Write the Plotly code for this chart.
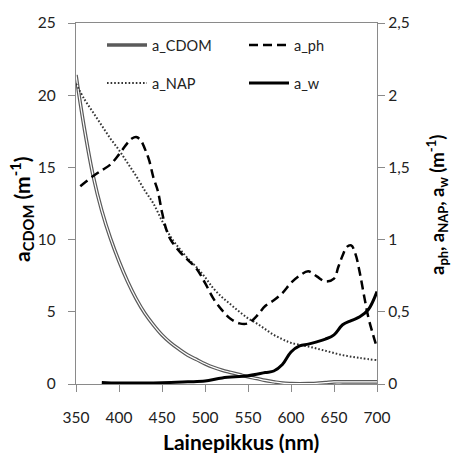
import plotly.graph_objects as go

# ---- data ----
wl_cdom = [350, 360, 370, 380, 390, 400, 410, 420, 430, 440, 450, 460, 470, 480, 490,
           500, 510, 520, 530, 540, 550, 560, 570, 580, 590, 600, 610, 620, 630, 640,
           650, 660, 670, 680, 690, 700]
a_cdom = [21.4, 17.6, 14.4, 12.0, 10.1, 8.5, 7.1, 5.9, 4.9, 4.1, 3.4, 2.85, 2.4, 2.0, 1.7,
          1.4, 1.15, 0.95, 0.8, 0.65, 0.5, 0.38, 0.25, 0.15, 0.06, 0.03, 0.02, 0.03, 0.05, 0.1,
          0.15, 0.15, 0.15, 0.15, 0.15, 0.15]

wl_ph = [355, 370, 380, 390, 400, 410, 415, 420, 425, 430, 435, 440, 445, 450, 455, 460,
         470, 480, 490, 500, 510, 520, 530, 540, 550, 560, 570, 580, 590, 600, 610, 620,
         630, 640, 650, 655, 660, 665, 670, 675, 680, 685, 690, 695, 700]
a_ph = [1.37, 1.44, 1.48, 1.52, 1.59, 1.67, 1.70, 1.71, 1.69, 1.63, 1.55, 1.43, 1.34, 1.19,
        1.07, 1.00, 0.92, 0.86, 0.80, 0.70, 0.59, 0.51, 0.45, 0.42, 0.42, 0.47, 0.54, 0.58,
        0.63, 0.70, 0.75, 0.78, 0.745, 0.71, 0.73, 0.81, 0.89, 0.95, 0.96, 0.90, 0.77, 0.61,
        0.46, 0.35, 0.25]

wl_nap = [350, 360, 370, 380, 390, 400, 410, 420, 430, 440, 450, 460, 470, 480, 490, 500,
          510, 520, 530, 540, 550, 560, 570, 580, 590, 600, 620, 640, 660, 680, 700]
a_nap = [2.08, 1.97, 1.88, 1.79, 1.70, 1.62, 1.53, 1.44, 1.34, 1.25, 1.13, 1.02, 0.94, 0.87,
         0.81, 0.74, 0.66, 0.60, 0.55, 0.50, 0.455, 0.42, 0.38, 0.34, 0.31, 0.285, 0.26,
         0.23, 0.20, 0.18, 0.165]

wl_w = [380, 400, 450, 480, 500, 520, 550, 570, 580, 590, 600, 610, 620, 630, 640, 650,
        660, 670, 680, 690, 700]
a_w = [0.011, 0.007, 0.009, 0.015, 0.020, 0.042, 0.057, 0.079, 0.090, 0.135, 0.222, 0.264,
       0.276, 0.292, 0.311, 0.340, 0.410, 0.439, 0.465, 0.516, 0.640]

x_ticks = [350, 400, 450, 500, 550, 600, 650, 700]
y1_ticks = [0, 5, 10, 15, 20, 25]
y2_ticks = [0, 0.5, 1, 1.5, 2, 2.5]
y2_labels = ["0", "0,5", "1", "1,5", "2", "2,5"]

x_title = "<b>Lainepikkus (nm)</b>"
y1_title = "<b>a<sub>CDOM</sub> (m<sup>-1</sup>)</b>"
y2_title = "<b>a<sub>ph</sub>, a<sub>NAP</sub>, a<sub>w</sub> (m<sup>-1</sup>)</b>"

FONT = "Lato"
TXT = "#222222"
AX = "#8a8a8a"

fig = go.Figure()

# a_CDOM double line (gray outer + white core)
fig.add_trace(go.Scatter(x=wl_cdom, y=a_cdom, mode="lines", name="a_CDOM",
                         line=dict(color="#5a5a5a", width=3.6, shape="spline"),
                         legend="legend", yaxis="y"))
fig.add_trace(go.Scatter(x=wl_cdom, y=a_cdom, mode="lines", showlegend=False,
                         line=dict(color="white", width=1.2, shape="spline"),
                         hoverinfo="skip", yaxis="y"))
fig.add_trace(go.Scatter(x=wl_nap, y=a_nap, mode="lines", name="a_NAP",
                         line=dict(color="#333333", width=2, dash="1.6px,2px", shape="spline"),
                         legend="legend2", yaxis="y2"))
fig.add_trace(go.Scatter(x=wl_ph, y=a_ph, mode="lines", name="a_ph",
                         line=dict(color="black", width=2.5, dash="9px,5px", shape="spline"),
                         legend="legend3", yaxis="y2"))
fig.add_trace(go.Scatter(x=wl_w, y=a_w, mode="lines", name="a_w",
                         line=dict(color="black", width=3, shape="spline"),
                         legend="legend4", yaxis="y2"))

leg_common = dict(bgcolor="rgba(0,0,0,0)", borderwidth=0, yanchor="middle",
                  xanchor="left", font=dict(family=FONT, size=14.5, color=TXT),
                  itemwidth=40)

PL, PT, PW, PH = 76, 23, 301, 361   # plot area in pixels


def px_x(px):
    return (px - PL) / PW


def px_y(py):
    return (PT + PH - py) / PH


fig.update_layout(
    width=452, height=453, autosize=False, showlegend=True,
    margin=dict(l=76, r=75, t=23, b=69, autoexpand=False),
    paper_bgcolor="white", plot_bgcolor="white",
    font=dict(family=FONT, color=TXT),
    legend=dict(x=px_x(102), y=px_y(45), **leg_common),
    legend2=dict(x=px_x(102), y=px_y(83), **leg_common),
    legend3=dict(x=px_x(244), y=px_y(45), **leg_common),
    legend4=dict(x=px_x(244), y=px_y(83), **leg_common),
    xaxis=dict(range=[350, 700], tickvals=x_ticks, showgrid=False, zeroline=False,
               showline=True, linecolor=AX, linewidth=1.2, mirror=True, automargin=False,
               ticks="outside", ticklen=7, tickcolor=AX, ticklabelstandoff=12,
               tickfont=dict(family=FONT, size=15.5, color=TXT)),
    yaxis=dict(range=[0, 25], tickvals=y1_ticks, showgrid=False, zeroline=False,
               showline=True, linecolor=AX, linewidth=1.2, automargin=False,
               ticks="outside", ticklen=7, tickcolor=AX, ticklabelstandoff=9,
               tickfont=dict(family=FONT, size=15.5, color=TXT)),
    yaxis2=dict(range=[0, 2.5], tickvals=y2_ticks, ticktext=y2_labels, overlaying="y",
                side="right", showgrid=False, zeroline=False, automargin=False,
                showline=True, linecolor=AX, linewidth=1.2,
                ticks="outside", ticklen=7, tickcolor=AX,
                tickfont=dict(family=FONT, size=15.5, color=TXT)),
)

fig.add_annotation(xref="paper", yref="paper", x=px_x(241), y=px_y(441),
                   text=x_title, showarrow=False, xanchor="center", yanchor="middle",
                   font=dict(family=FONT, size=21, color="black"))
fig.add_annotation(xref="paper", yref="paper", x=px_x(22), y=px_y(210),
                   text=y1_title, showarrow=False, textangle=-90,
                   xanchor="center", yanchor="middle",
                   font=dict(family=FONT, size=21, color="black"))
fig.add_annotation(xref="paper", yref="paper", x=px_x(437), y=px_y(205),
                   text=y2_title, showarrow=False, textangle=-90,
                   xanchor="center", yanchor="middle",
                   font=dict(family=FONT, size=18.5, color="black"))

fig.write_html("out.html", config={"displayModeBar": False},
               post_script="document.body.style.margin='0';")
